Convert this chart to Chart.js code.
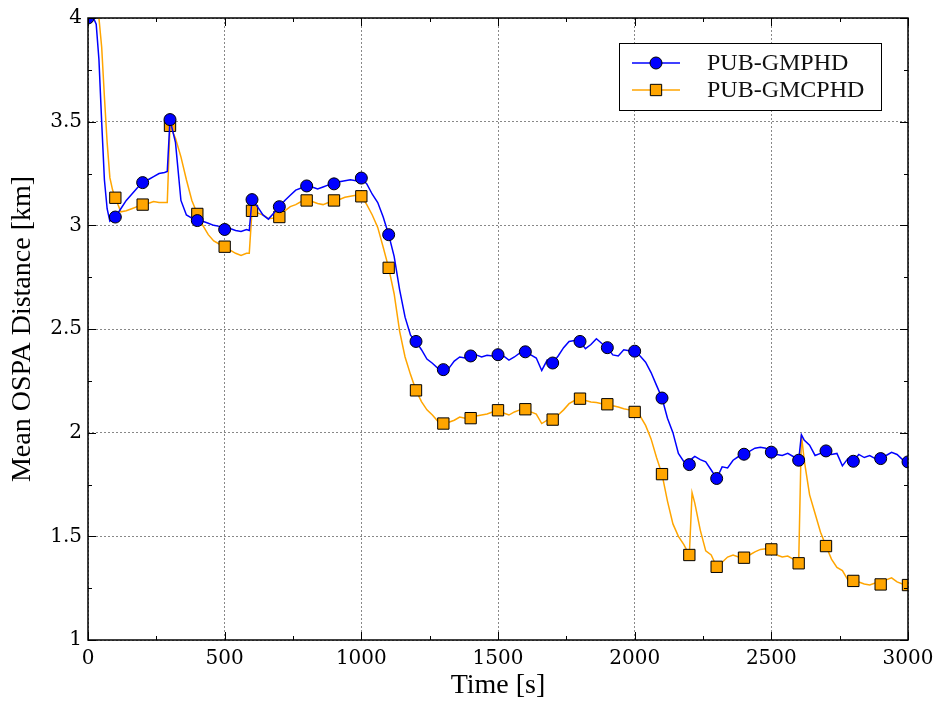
<!DOCTYPE html>
<html>
<head>
<meta charset="utf-8">
<script src="https://cdn.jsdelivr.net/npm/chart.js@4.4.1/dist/chart.umd.min.js"></script>
<style>
    html, body { margin: 0; padding: 0; background: #ffffff; }
    #wrap { width: 936px; height: 702px; position: relative; }
</style>
</head>
<body>
<div id="wrap"><canvas id="chart1"></canvas></div>
<script>
// sample times [s]
const times = [
    0, 20, 30, 40, 50, 60, 70, 80, 90, 100,
    120, 140, 160, 180, 200, 220, 240, 260, 280, 290,
    300, 320, 340, 360, 380, 400, 420, 440, 460, 480,
    500, 520, 540, 560, 580, 590, 600, 620, 640, 660,
    680, 700, 720, 740, 760, 780, 800, 820, 840, 860,
    880, 900, 920, 940, 960, 980, 1000, 1020, 1040, 1060,
    1080, 1100, 1120, 1140, 1160, 1180, 1200, 1220, 1240, 1260,
    1280, 1300, 1320, 1340, 1360, 1380, 1400, 1420, 1440, 1460,
    1480, 1500, 1520, 1540, 1560, 1580, 1600, 1620, 1640, 1660,
    1680, 1700, 1720, 1740, 1760, 1780, 1800, 1820, 1840, 1860,
    1880, 1900, 1920, 1940, 1960, 1980, 2000, 2020, 2040, 2060,
    2080, 2100, 2120, 2140, 2160, 2180, 2200, 2210, 2220, 2240,
    2260, 2280, 2300, 2320, 2340, 2360, 2380, 2400, 2420, 2440,
    2460, 2480, 2500, 2520, 2540, 2560, 2580, 2600, 2610, 2620,
    2640, 2660, 2680, 2700, 2720, 2740, 2760, 2780, 2800, 2820,
    2840, 2860, 2880, 2900, 2920, 2940, 2960, 2980, 3000,
];

const gmphd = [
    4.00, 4.00, 3.97, 3.80, 3.50, 3.22, 3.08, 3.02, 3.03, 3.04,
    3.08, 3.12, 3.15, 3.18, 3.206, 3.22, 3.235, 3.25, 3.255, 3.26,
    3.51, 3.40, 3.12, 3.05, 3.035, 3.023, 3.02, 3.01, 3.00, 2.995,
    2.98, 2.985, 2.975, 2.97, 2.98, 2.975, 3.124, 3.09, 3.05, 3.03,
    3.06, 3.09, 3.12, 3.145, 3.17, 3.18, 3.19, 3.185, 3.175, 3.185,
    3.195, 3.20, 3.21, 3.215, 3.22, 3.215, 3.228, 3.20, 3.15, 3.11,
    3.04, 2.955, 2.85, 2.69, 2.557, 2.47, 2.44, 2.40, 2.355, 2.335,
    2.31, 2.304, 2.31, 2.345, 2.365, 2.36, 2.37, 2.375, 2.365, 2.373,
    2.37, 2.376, 2.37, 2.35, 2.365, 2.385, 2.39, 2.375, 2.36, 2.30,
    2.35, 2.336, 2.37, 2.41, 2.44, 2.445, 2.44, 2.405, 2.425, 2.453,
    2.43, 2.41, 2.375, 2.37, 2.40, 2.395, 2.393, 2.37, 2.34, 2.29,
    2.228, 2.167, 2.07, 2.00, 1.90, 1.86, 1.846, 1.875, 1.886, 1.87,
    1.859, 1.82, 1.779, 1.835, 1.83, 1.867, 1.885, 1.896, 1.91, 1.925,
    1.93, 1.925, 1.906, 1.895, 1.89, 1.90, 1.885, 1.867, 1.99, 1.965,
    1.94, 1.89, 1.90, 1.912, 1.895, 1.90, 1.84, 1.875, 1.862, 1.895,
    1.88, 1.89, 1.875, 1.875, 1.89, 1.905, 1.895, 1.87, 1.859,
];

const gmcphd = [
    4.40, 4.25, 4.12, 4.00, 3.86, 3.62, 3.40, 3.23, 3.17, 3.133,
    3.065, 3.07, 3.08, 3.09, 3.10, 3.105, 3.115, 3.11, 3.11, 3.11,
    3.48, 3.42, 3.33, 3.22, 3.12, 3.055, 3.00, 2.955, 2.925, 2.91,
    2.897, 2.88, 2.865, 2.855, 2.865, 2.865, 3.07, 3.06, 3.05, 3.032,
    3.035, 3.04, 3.07, 3.09, 3.10, 3.115, 3.12, 3.115, 3.105, 3.10,
    3.11, 3.12, 3.125, 3.135, 3.14, 3.145, 3.14, 3.10, 3.05, 2.99,
    2.894, 2.795, 2.67, 2.49, 2.365, 2.28, 2.204, 2.15, 2.11, 2.085,
    2.055, 2.044, 2.05, 2.06, 2.075, 2.07, 2.07, 2.08, 2.085, 2.09,
    2.10, 2.108, 2.095, 2.085, 2.10, 2.11, 2.113, 2.10, 2.09, 2.044,
    2.06, 2.063, 2.085, 2.11, 2.14, 2.155, 2.164, 2.155, 2.148, 2.145,
    2.14, 2.137, 2.13, 2.124, 2.115, 2.11, 2.10, 2.08, 2.035, 1.97,
    1.88, 1.80, 1.67, 1.56, 1.50, 1.46, 1.41, 1.71, 1.66, 1.53,
    1.43, 1.41, 1.353, 1.375, 1.40, 1.41, 1.40, 1.397, 1.41, 1.425,
    1.437, 1.44, 1.437, 1.41, 1.40, 1.405, 1.39, 1.37, 1.99, 1.87,
    1.70, 1.61, 1.52, 1.453, 1.39, 1.35, 1.335, 1.29, 1.285, 1.28,
    1.27, 1.265, 1.275, 1.268, 1.29, 1.30, 1.28, 1.27, 1.265,
];

const seriesNames = ["PUB-GMPHD", "PUB-GMCPHD"];
const xTicks = [0, 500, 1000, 1500, 2000, 2500, 3000];
const yTicks = [1, 1.5, 2, 2.5, 3, 3.5, 4];

const BLUE = "#0000ff";
const ORANGE = "#ffa500";
const tickFont = { family: "DejaVu Serif", size: 20 };
const titleFont = { family: "Liberation Serif", size: 28 };

// markers only every 100 s
const markerRadius = (r) => (ctx) => (times[ctx.dataIndex] % 100 === 0 ? r : 0);

// inward ticks + frame, gnuplot style
const framePlugin = {
    id: "frame",
    afterDatasetsDraw(chart) {
        const { ctx, chartArea: a, scales } = chart;
        const x = scales.x;
        const y = scales.y;
        ctx.save();
        ctx.strokeStyle = "#000";
        ctx.lineWidth = 1;
        ctx.beginPath();
        for (let v = 0; v <= 3000; v += 250) {
            const px = Math.round(x.getPixelForValue(v)) + 0.5;
            const len = v % 500 === 0 ? 8 : 4;
            ctx.moveTo(px, a.bottom);
            ctx.lineTo(px, a.bottom - len);
            ctx.moveTo(px, a.top);
            ctx.lineTo(px, a.top + len);
        }
        for (let v = 1; v <= 4.001; v += 0.25) {
            const py = Math.round(y.getPixelForValue(v)) + 0.5;
            const len = Math.abs(v * 2 - Math.round(v * 2)) < 0.01 ? 8 : 4;
            ctx.moveTo(a.left, py);
            ctx.lineTo(a.left + len, py);
            ctx.moveTo(a.right, py);
            ctx.lineTo(a.right - len, py);
        }
        ctx.stroke();
        ctx.lineWidth = 1.5;
        ctx.strokeRect(a.left, a.top, a.right - a.left, a.bottom - a.top);
        ctx.restore();
    },
    afterDraw(chart) {
        // legend box
        const { ctx } = chart;
        const box = { left: 619, top: 43, width: 262, height: 67 };
        ctx.save();
        ctx.fillStyle = "#fff";
        ctx.fillRect(box.left, box.top, box.width, box.height);
        ctx.strokeStyle = "#000";
        ctx.lineWidth = 1;
        ctx.strokeRect(box.left + 0.5, box.top + 0.5, box.width, box.height);
        const rows = [
            { color: BLUE, style: "circle", r: 6, y: box.top + 20 },
            { color: ORANGE, style: "rect", r: 8, y: box.top + 47 },
        ];
        rows.forEach((row, i) => {
            ctx.strokeStyle = row.color;
            ctx.lineWidth = 1.5;
            ctx.beginPath();
            ctx.moveTo(box.left + 13, row.y);
            ctx.lineTo(box.left + 61, row.y);
            ctx.stroke();
            ctx.fillStyle = row.color;
            ctx.strokeStyle = "#000";
            ctx.lineWidth = 1;
            Chart.helpers.drawPoint(ctx, { pointStyle: row.style, radius: row.r, borderWidth: 1 }, box.left + 37, row.y);
            ctx.fillStyle = "#111";
            ctx.font = "24px 'Liberation Serif'";
            ctx.textBaseline = "middle";
            ctx.fillText(seriesNames[i], box.left + 88, row.y + 1);
        });
        ctx.restore();
    },
};

const ctx = document.getElementById("chart1").getContext("2d");

new Chart(ctx, {
    type: "line",
    data: {
        labels: times,
        datasets: [
            {
                label: seriesNames[0],
                data: times.map((t, i) => ({ x: t, y: gmphd[i] })),
                borderColor: BLUE,
                borderWidth: 1.5,
                backgroundColor: BLUE,
                pointStyle: "circle",
                pointRadius: markerRadius(6),
                pointHoverRadius: 0,
                pointBackgroundColor: BLUE,
                pointBorderColor: "#000",
                pointBorderWidth: 1,
                tension: 0,
                order: 1,
            },
            {
                label: seriesNames[1],
                data: times.map((t, i) => ({ x: t, y: gmcphd[i] })),
                borderColor: ORANGE,
                borderWidth: 1.5,
                backgroundColor: ORANGE,
                pointStyle: "rect",
                pointRadius: markerRadius(8),
                pointHoverRadius: 0,
                pointBackgroundColor: ORANGE,
                pointBorderColor: "#000",
                pointBorderWidth: 1,
                tension: 0,
                order: 2,
            },
        ],
    },
    options: {
        responsive: true,
        maintainAspectRatio: false,
        animation: false,
        events: [],
        layout: { padding: { left: 0, right: 28, top: 17, bottom: 0 } },
        plugins: {
            legend: { display: false },
            tooltip: { enabled: false },
        },
        scales: {
            x: {
                type: "linear",
                min: 0,
                max: 3000,
                afterBuildTicks: (s) => {
                    s.ticks = xTicks.map((v) => ({ value: v }));
                },
                afterFit: (s) => {
                    s.height = 62;
                    s.paddingLeft = 0;
                    s.paddingRight = 0;
                },
                ticks: {
                    color: "#000",
                    font: tickFont,
                    padding: 7,
                    maxRotation: 0,
                    callback: (v) => String(v),
                },
                grid: {
                    color: "#888",
                    lineWidth: 1,
                    drawTicks: false,
                },
                border: { display: false, dash: [2, 2] },
                title: {
                    display: true,
                    text: "Time [s]",
                    color: "#000",
                    font: titleFont,
                    padding: { top: 0, bottom: 0 },
                },
            },
            y: {
                type: "linear",
                min: 1,
                max: 4,
                afterBuildTicks: (s) => {
                    s.ticks = yTicks.map((v) => ({ value: v }));
                },
                afterFit: (s) => {
                    s.width = 88;
                },
                ticks: {
                    color: "#000",
                    font: tickFont,
                    padding: 6,
                    callback: (v) => String(v),
                },
                grid: {
                    color: "#888",
                    lineWidth: 1,
                    drawTicks: false,
                },
                border: { display: false, dash: [2, 2] },
                title: {
                    display: true,
                    text: "Mean OSPA Distance [km]",
                    color: "#000",
                    font: titleFont,
                    padding: { top: 6, bottom: 0 },
                },
            },
        },
    },
    plugins: [framePlugin],
});
</script>
</body>
</html>
